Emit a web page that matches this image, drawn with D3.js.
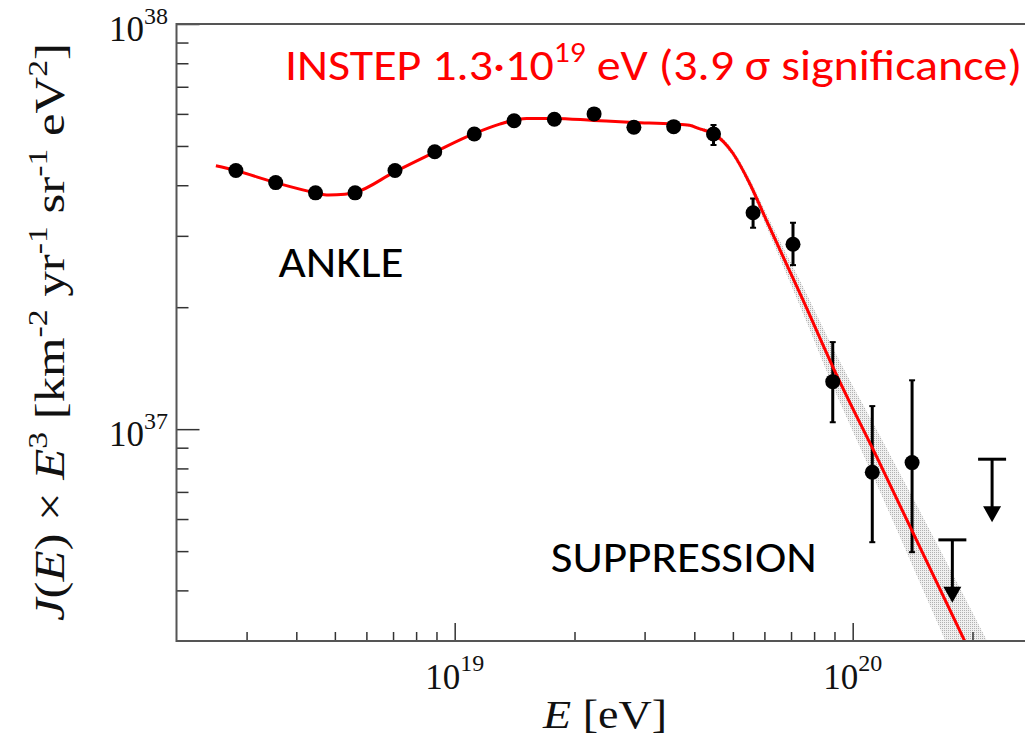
<!DOCTYPE html>
<html><head><meta charset="utf-8">
<script src="https://cdn.jsdelivr.net/npm/d3@7"></script>
<style>html,body{margin:0;padding:0;background:#fff;overflow:hidden}</style>
</head><body><svg id="c" width="1025" height="741"></svg>
<script>
// ---- data ----
const energies = [2.82e18, 3.55e18, 4.47e18, 5.62e18, 7.08e18, 8.91e18, 1.12e19, 1.41e19, 1.78e19, 2.24e19, 2.82e19, 3.55e19, 4.47e19, 5.62e19, 7.08e19, 8.91e19, 1.12e20, 1.41e20];
const flux = [4.35e37, 4.06e37, 3.83e37, 3.83e37, 4.35e37, 4.84e37, 5.35e37, 5.77e37, 5.82e37, 6.0e37, 5.56e37, 5.58e37, 5.35e37, 3.42e37, 2.86e37, 1.31e37, 7.83e36, 8.27e36];
const fluxHi = [4.45e37, 4.15e37, 3.92e37, 3.92e37, 4.45e37, 4.95e37, 5.47e37, 5.9e37, 5.95e37, 6.14e37, 5.72e37, 5.76e37, 5.63e37, 3.71e37, 3.23e37, 1.64e37, 1.14e37, 1.32e37];
const fluxLo = [4.25e37, 3.97e37, 3.74e37, 3.74e37, 4.25e37, 4.73e37, 5.23e37, 5.64e37, 5.69e37, 5.86e37, 5.41e37, 5.41e37, 5.03e37, 3.14e37, 2.54e37, 1.04e37, 5.26e36, 4.97e36];
const limitEnergies = [1.78e20, 2.24e20];
const limitFlux = [5.33e36, 8.43e36];
// fit curve (log10 E, log10 J*E^3) and its uncertainty half-width (decades)
const fitLogE = [18.40, 18.447, 18.548, 18.648, 18.683, 18.724, 18.749, 18.849, 18.95, 19.05, 19.113, 19.181, 19.251, 19.349, 19.45, 19.55, 19.59, 19.616, 19.649, 19.699, 19.741, 19.783, 19.825, 19.875, 19.95, 20.064, 20.281, 20.40];
const fitLogJ = [37.650, 37.639, 37.609, 37.584, 37.578, 37.580, 37.584, 37.635, 37.684, 37.730, 37.753, 37.767, 37.767, 37.762, 37.757, 37.753, 37.750, 37.741, 37.730, 37.681, 37.607, 37.516, 37.426, 37.319, 37.154, 36.924, 36.478, 36.232];
const fitBand = [0, 0, 0, 0, 0, 0, 0, 0, 0, 0, 0, 0, 0, 0, 0, 0.002, 0.003, 0.004, 0.006, 0.008, 0.011, 0.016, 0.023, 0.033, 0.047, 0.068, 0.108, 0.125];
const xMajorTicks = [1e19, 1e20];
const xMinorTicks = [3e18, 4e18, 5e18, 6e18, 7e18, 8e18, 9e18, 2e19, 3e19, 4e19, 5e19, 6e19, 7e19, 8e19, 9e19, 2e20];
const xTickLabels = ["19", "20"];
const yMajorTicks = [1e37, 1e38];
const yMinorTicks = [4e36, 5e36, 6e36, 7e36, 8e36, 9e36, 2e37, 3e37, 4e37, 5e37, 6e37, 7e37, 8e37, 9e37];
const yTickLabels = ["37", "38"];
const titleMain = "INSTEP 1.3·10";
const titleSup = "19";
const titleRest = " eV (3.9 σ significance)";
const annotations = ["ANKLE", "SUPPRESSION"];

// ---- layout ----
const L = 176.5, T = 24, B = 641, R = 1025;
const svg = d3.select("#c");
svg.append("rect").attr("width", 1025).attr("height", 741).attr("fill", "#fff");
const x = d3.scaleLog().domain([2e18, 3e20]).range([L, L + 398 * Math.log10(150)]);
const y = d3.scaleLog().domain([3e36, 1e38]).range([B, T]);

const defs = svg.append("defs");
defs.append("clipPath").attr("id", "plot").append("rect").attr("x", L).attr("y", T).attr("width", R - L + 40).attr("height", B - T);
const pat = defs.append("pattern").attr("id", "dots").attr("width", 2).attr("height", 2).attr("patternUnits", "userSpaceOnUse");
pat.append("rect").attr("width", 2).attr("height", 2).attr("fill", "#eeeeee");
pat.append("rect").attr("width", 1).attr("height", 1).attr("fill", "#a8a8a8");

// band + fit
const fit = fitLogE.map((e, i) => ({ E: Math.pow(10, e), J: Math.pow(10, fitLogJ[i]), w: fitBand[i] }));
const plotG = svg.append("g").attr("clip-path", "url(#plot)");
plotG.append("path").datum(fit)
  .attr("d", d3.area().curve(d3.curveMonotoneX)
    .x(d => x(d.E)).y0(d => y(d.J * Math.pow(10, -d.w))).y1(d => y(d.J * Math.pow(10, d.w))))
  .attr("fill", "url(#dots)").attr("opacity", 0.9);

// error bars
const pts = energies.map((e, i) => ({ E: e, J: flux[i], hi: fluxHi[i], lo: fluxLo[i] }));
const eb = plotG.append("g").attr("stroke", "#000").attr("stroke-width", 3);
pts.forEach(d => {
  eb.append("line").attr("x1", x(d.E)).attr("x2", x(d.E)).attr("y1", y(d.hi)).attr("y2", y(d.lo));
  eb.append("line").attr("x1", x(d.E) - 3).attr("x2", x(d.E) + 3).attr("y1", y(d.hi)).attr("y2", y(d.hi)).attr("stroke-width", 2);
  eb.append("line").attr("x1", x(d.E) - 3).attr("x2", x(d.E) + 3).attr("y1", y(d.lo)).attr("y2", y(d.lo)).attr("stroke-width", 2);
});

plotG.append("path").datum(fit)
  .attr("d", d3.line().curve(d3.curveMonotoneX).x(d => x(d.E)).y(d => y(d.J)))
  .attr("fill", "none").attr("stroke", "#ff0000").attr("stroke-width", 3);

plotG.append("g").selectAll("circle").data(pts).join("circle")
  .attr("cx", d => x(d.E)).attr("cy", d => y(d.J)).attr("r", 7.5).attr("fill", "#000");

// upper limits
limitEnergies.forEach((e, i) => {
  const cx = x(e), cy = y(limitFlux[i]);
  const g = svg.append("g");
  g.append("line").attr("x1", cx - 14).attr("x2", cx + 14).attr("y1", cy).attr("y2", cy).attr("stroke", "#000").attr("stroke-width", 3);
  g.append("line").attr("x1", cx).attr("x2", cx).attr("y1", cy).attr("y2", cy + 50).attr("stroke", "#000").attr("stroke-width", 3);
  g.append("path").attr("d", `M${cx - 9},${cy + 47} L${cx + 9},${cy + 47} L${cx},${cy + 63} Z`).attr("fill", "#000");
});

// axes
const tickStyle = g => g.selectAll("line").attr("stroke", "#333").attr("stroke-width", 1.5);
const gx1 = svg.append("g").attr("transform", `translate(0,${B})`).call(d3.axisBottom(x).tickValues(xMinorTicks).tickSize(-9).tickFormat(""));
const gx2 = svg.append("g").attr("transform", `translate(0,${B})`).call(d3.axisBottom(x).tickValues(xMajorTicks).tickSize(-18).tickFormat(""));
const gy1 = svg.append("g").attr("transform", `translate(${L},0)`).call(d3.axisLeft(y).tickValues(yMinorTicks).tickSize(-12).tickFormat(""));
const gy2 = svg.append("g").attr("transform", `translate(${L},0)`).call(d3.axisLeft(y).tickValues(yMajorTicks).tickSize(-23).tickFormat(""));
[gx1, gx2, gy1, gy2].forEach(g => { g.select(".domain").remove(); tickStyle(g); });

// frame
svg.append("path").attr("d", `M${R + 5},${T} H${L} V${B} H${R + 5}`).attr("fill", "none").attr("stroke", "#555").attr("stroke-width", 2);

// tick labels
const serif = "'Liberation Serif','DejaVu Serif',serif";
xMajorTicks.forEach((v, i) => {
  const t = svg.append("text").attr("x", x(v)).attr("y", 689).attr("text-anchor", "middle")
    .attr("font-family", serif).attr("font-size", 35).attr("fill", "#111");
  t.append("tspan").text("10");
  t.append("tspan").attr("dy", -18).attr("font-size", 24).text(xTickLabels[i]);
});
yMajorTicks.forEach((v, i) => {
  const t = svg.append("text").attr("x", 168).attr("y", y(v) + 17).attr("text-anchor", "end")
    .attr("font-family", serif).attr("font-size", 35).attr("fill", "#111");
  t.append("tspan").text("10");
  t.append("tspan").attr("dy", -17).attr("font-size", 24).text(yTickLabels[i]);
});

// axis titles
const xl = svg.append("text").attr("x", 605).attr("y", 728).attr("text-anchor", "middle")
  .attr("font-family", serif).attr("font-size", 41).attr("fill", "#111")
  .attr("textLength", 124).attr("lengthAdjust", "spacingAndGlyphs");
xl.append("tspan").attr("font-style", "italic").text("E");
xl.append("tspan").text(" [eV]");

const yl = svg.append("text").attr("transform", "translate(64,332) rotate(-90)").attr("text-anchor", "middle")
  .attr("font-family", serif).attr("font-size", 42).attr("fill", "#111")
  .attr("textLength", 578).attr("lengthAdjust", "spacingAndGlyphs");
yl.append("tspan").attr("font-style", "italic").text("J");
yl.append("tspan").text("(");
yl.append("tspan").attr("font-style", "italic").text("E");
yl.append("tspan").text(") × ");
yl.append("tspan").attr("font-style", "italic").text("E");
yl.append("tspan").attr("dy", -17).attr("font-size", 28).text("3");
yl.append("tspan").attr("dy", 17).text(" [km");
yl.append("tspan").attr("dy", -17).attr("font-size", 28).text("-2");
yl.append("tspan").attr("dy", 17).text(" yr");
yl.append("tspan").attr("dy", -17).attr("font-size", 28).text("-1");
yl.append("tspan").attr("dy", 17).text(" sr");
yl.append("tspan").attr("dy", -17).attr("font-size", 28).text("-1");
yl.append("tspan").attr("dy", 17).text(" eV");
yl.append("tspan").attr("dy", -17).attr("font-size", 28).text("2");
yl.append("tspan").attr("dy", 17).text("]");

// title and annotations
const sans = "Carlito,Lato,'Open Sans',sans-serif";
const tt = svg.append("text").attr("x", 285).attr("y", 80).attr("font-family", sans).attr("font-size", 44).attr("fill", "#ff0000")
  .attr("textLength", 737).attr("lengthAdjust", "spacingAndGlyphs");
tt.append("tspan").text(titleMain);
tt.append("tspan").attr("dy", -18).attr("font-size", 29).text(titleSup);
tt.append("tspan").attr("dy", 18).text(titleRest);

svg.append("text").attr("x", 278.6).attr("y", 277).attr("font-family", sans).attr("font-size", 44).attr("fill", "#000")
  .attr("textLength", 125).attr("lengthAdjust", "spacingAndGlyphs").text(annotations[0]);
svg.append("text").attr("x", 550.7).attr("y", 572).attr("font-family", sans).attr("font-size", 44).attr("fill", "#000")
  .attr("textLength", 266).attr("lengthAdjust", "spacingAndGlyphs").text(annotations[1]);
</script></body></html>
